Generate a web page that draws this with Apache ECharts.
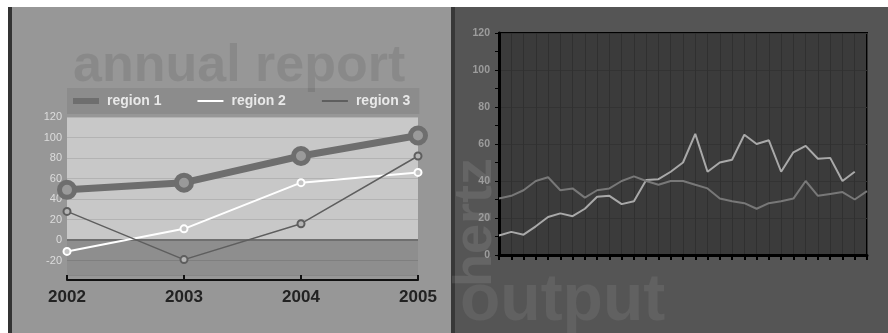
<!DOCTYPE html>
<html>
<head>
<meta charset="utf-8">
<script src="https://cdn.jsdelivr.net/npm/echarts@6/dist/echarts.min.js"></script>
<style>
html, body { margin: 0; padding: 0; background: #fff; }
#chart { width: 888px; height: 333px; }
</style>
</head>
<body>
<div id="chart"></div>
<script>
// left panel: annual report
const years = ['2002', '2003', '2004', '2005']
const region1 = [49, 56, 82, 102]
const region2 = [-11, 11, 56, 66]
const region3 = [28, -19, 16, 82]

// right panel: hertz output
const samples = ['1', '2', '3', '4', '5', '6', '7', '8', '9', '10', '11', '12', '13', '14', '15', '16',
  '17', '18', '19', '20', '21', '22', '23', '24', '25', '26', '27', '28', '29', '30', '31']
const hertzA = [10.5, 12.5, 11, 15.5, 20.5, 22.5, 21, 25, 31.5, 32, 27.5, 29, 40.5, 41, 45, 50,
  65.5, 45, 50, 51.5, 65, 60, 62, 45, 55.5, 59, 52, 52.5, 40, 45]
const hertzB = [30.5, 32, 35, 40, 42, 35, 36, 31, 35, 36, 40, 42.5, 40, 38, 40, 40,
  38, 36, 30.5, 29, 28, 25, 28, 29, 30.5, 40, 32, 33, 34, 30, 34.5]

const font = 'Liberation Sans, Arial, sans-serif'

const chart = echarts.init(document.getElementById('chart'))

const option = {
  backgroundColor: '#fff',
  animation: false,
  graphic: [
    { type: 'rect', z: -10, silent: true, shape: { x: 8, y: 7, width: 443, height: 326 }, style: { fill: '#979797' } },
    { type: 'rect', z: -10, silent: true, shape: { x: 455, y: 7, width: 433, height: 326 }, style: { fill: '#555555' } },
    { type: 'rect', z: -9, silent: true, shape: { x: 8, y: 7, width: 4, height: 326 }, style: { fill: '#333333' } },
    { type: 'rect', z: -9, silent: true, shape: { x: 451, y: 7, width: 4, height: 326 }, style: { fill: '#383838' } },
    {
      type: 'text', z: 10, silent: true, x: 73, y: 67,
      style: { text: 'annual report', font: 'bold 52px ' + font, fill: 'rgba(0,0,0,0.09)', verticalAlign: 'middle' }
    },
    {
      type: 'text', z: -5, silent: true, x: 460, y: 302,
      style: { text: 'output', font: 'bold 66px ' + font, fill: 'rgba(255,255,255,0.07)', verticalAlign: 'middle' }
    },
    {
      type: 'text', z: -5, silent: true, x: 476, y: 287, rotation: Math.PI / 2,
      style: { text: 'hertz', font: 'bold 54px ' + font, fill: 'rgba(255,255,255,0.095)', verticalAlign: 'middle' }
    }
  ],
  legend: {
    left: 67,
    top: 88,
    padding: [6, 9, 6, 6],
    itemGap: 36,
    itemWidth: 26,
    itemHeight: 6,
    backgroundColor: '#8c8c8c',
    textStyle: { color: '#e8e8e8', fontSize: 14, fontWeight: 'bold', fontFamily: font, padding: [0, 0, 0, 3] },
    data: [
      { name: 'region 1', icon: 'path://M0,0H26V6H0Z', itemStyle: { color: '#6e6e6e', borderWidth: 0 } },
      { name: 'region 2', icon: 'path://M0,0H26V2H0Z', itemStyle: { color: '#ffffff', borderWidth: 0 } },
      { name: 'region 3', icon: 'path://M0,0H26V2H0Z', itemStyle: { color: '#5e5e5e', borderWidth: 0 } }
    ]
  },
  grid: [
    { left: 67, top: 117, width: 351, height: 158 },
    {
      left: 499, top: 33, width: 368, height: 222,
      show: true, backgroundColor: '#3b3b3b', borderColor: '#000', borderWidth: 2
    }
  ],
  xAxis: [
    {
      gridIndex: 0,
      type: 'category',
      data: years,
      boundaryGap: false,
      offset: 5,
      axisLine: { onZero: false, lineStyle: { color: '#111', width: 2 } },
      axisTick: { inside: true, length: 5, lineStyle: { color: '#111', width: 2 } },
      axisLabel: { color: '#222', fontSize: 17, fontWeight: 'bold', fontFamily: font, margin: 9 },
      splitLine: { show: false }
    },
    {
      gridIndex: 1,
      type: 'category',
      data: samples,
      boundaryGap: false,
      axisLine: { onZero: false, lineStyle: { color: '#000', width: 3 } },
      axisTick: { length: 5, interval: 0, lineStyle: { color: '#000', width: 2 } },
      axisLabel: { show: false },
      splitLine: { show: true, interval: 0, lineStyle: { color: '#303030', width: 1 } }
    }
  ],
  yAxis: [
    {
      gridIndex: 0,
      type: 'value',
      min: -34,
      max: 120,
      splitNumber: 8,
      minInterval: 20,
      maxInterval: 20,
      axisLine: { show: false },
      axisTick: { show: false },
      axisLabel: {
        color: '#dcdcdc', fontSize: 11, fontFamily: font, margin: 5,
        formatter: v => (v % 20 === 0 ? String(v) : '')
      },
      splitLine: { lineStyle: { color: 'rgba(0,0,0,0.1)', width: 1 } }
    },
    {
      gridIndex: 1,
      type: 'value',
      min: 0,
      max: 120,
      interval: 20,
      axisLine: { show: true, lineStyle: { color: '#000', width: 3 } },
      axisTick: { show: true, length: 4, lineStyle: { color: '#000' } },
      minorTick: { show: true, splitNumber: 2, length: 4, lineStyle: { color: '#000' } },
      axisLabel: { color: '#9c9c9c', fontSize: 10.5, fontWeight: 'bold', fontFamily: font, margin: 9 },
      splitLine: { lineStyle: { color: '#333', width: 1 } }
    }
  ],
  series: [
    {
      name: 'region 1',
      type: 'line',
      xAxisIndex: 0,
      yAxisIndex: 0,
      data: region1,
      symbol: 'circle',
      symbolSize: 15,
      lineStyle: { color: '#6e6e6e', width: 7 },
      itemStyle: { color: '#9a9a9a', borderColor: '#6e6e6e', borderWidth: 5 },
      z: 4,
      markArea: {
        silent: true,
        z: -1,
        data: [
          [{ yAxis: 0, itemStyle: { color: '#c8c8c8' } }, { yAxis: 120 }],
          [{ yAxis: -34, itemStyle: { color: '#8e8e8e' } }, { yAxis: 0 }]
        ]
      },
      markLine: {
        silent: true,
        z: 1,
        symbol: 'none',
        label: { show: false },
        lineStyle: { color: '#6f6f6f', width: 2, type: 'solid' },
        data: [{ yAxis: 0 }]
      }
    },
    {
      name: 'region 2',
      type: 'line',
      xAxisIndex: 0,
      yAxisIndex: 0,
      data: region2,
      symbol: 'circle',
      symbolSize: 7,
      lineStyle: { color: '#ffffff', width: 2 },
      itemStyle: { color: '#c4c4c4', borderColor: '#ffffff', borderWidth: 2 },
      z: 3
    },
    {
      name: 'region 3',
      type: 'line',
      xAxisIndex: 0,
      yAxisIndex: 0,
      data: region3,
      symbol: 'circle',
      symbolSize: 7,
      lineStyle: { color: '#5e5e5e', width: 1.5 },
      itemStyle: { color: '#b4b4b4', borderColor: '#5e5e5e', borderWidth: 2 },
      z: 3
    },
    {
      name: 'hertz a',
      type: 'line',
      xAxisIndex: 1,
      yAxisIndex: 1,
      data: hertzA,
      symbol: 'none',
      lineStyle: { color: '#a9a9a9', width: 2 }
    },
    {
      name: 'hertz b',
      type: 'line',
      xAxisIndex: 1,
      yAxisIndex: 1,
      data: hertzB,
      symbol: 'none',
      lineStyle: { color: '#787878', width: 2 }
    }
  ]
}

chart.setOption(option)
</script>
</body>
</html>
